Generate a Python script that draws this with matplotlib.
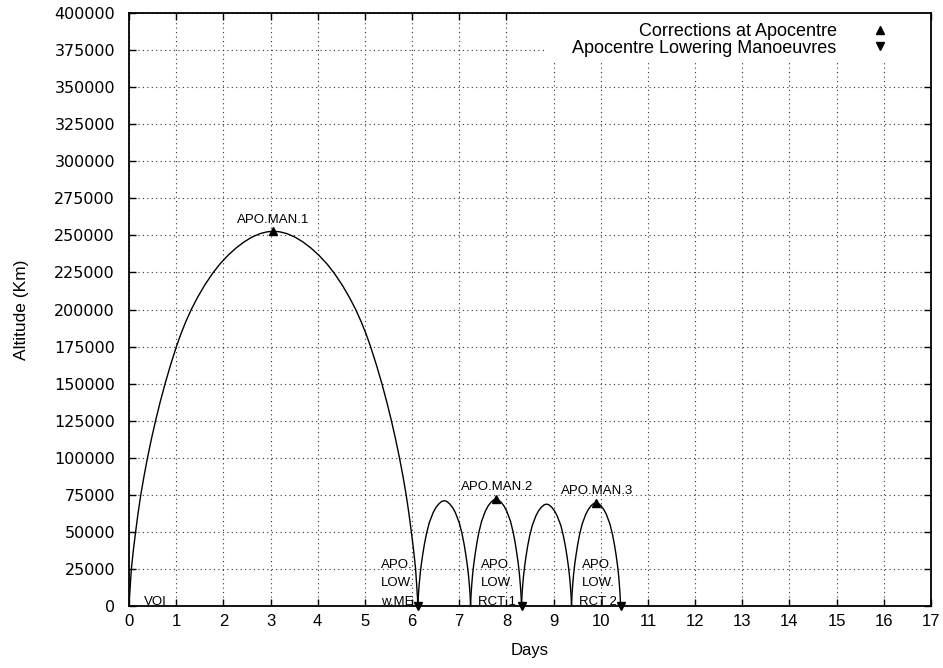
import matplotlib
matplotlib.use('Agg')
from matplotlib import pyplot as plt
from matplotlib.ticker import MultipleLocator
from matplotlib.patches import Rectangle

plt.rcParams['font.family'] = ['Liberation Sans', 'DejaVu Sans']

# altitude profile (days, km)
arc1_days = [0.000, 0.010, 0.022, 0.050, 0.090, 0.140, 0.192, 0.250, 0.318, 0.392, 0.474, 0.563,
             0.660, 0.765, 0.880, 1.005, 1.100, 1.200, 1.320, 1.450, 1.600, 1.770, 1.930, 2.100,
             2.270, 2.440, 2.610, 2.780, 2.930, 3.0625,
             3.195, 3.345, 3.515, 3.685, 3.855, 4.025, 4.195, 4.355, 4.525, 4.675, 4.805, 4.925,
             5.025, 5.120, 5.245, 5.360, 5.465, 5.562, 5.651, 5.733, 5.807, 5.875, 5.933, 5.985,
             6.035, 6.075, 6.103, 6.115, 6.125]
arc1_alt = [0, 5500, 11500, 25000, 37000, 50000, 62500, 75000, 87500, 100000, 112500, 125000,
            137500, 150000, 162500, 175000, 183500, 191500, 200000, 208000, 216200, 224300,
            230800, 236600, 241500, 245600, 248900, 251200, 252400, 252800,
            252400, 251200, 248900, 245600, 241500, 236600, 230800, 224300, 216200, 208000,
            200000, 191500, 183500, 175000, 162500, 150000, 137500, 125000, 112500, 100000,
            87500, 75000, 62500, 50000, 37000, 25000, 11500, 5500, 0]

arc2_days = [6.125, 6.134, 6.150, 6.170, 6.196, 6.228, 6.264, 6.308, 6.365, 6.447, 6.507, 6.569,
             6.631, 6.683, 6.734, 6.796, 6.858, 6.918, 7.000, 7.057, 7.101, 7.137, 7.169, 7.195,
             7.215, 7.231, 7.240]
arc2_alt = [0, 7000, 14100, 21100, 28100, 35100, 42100, 49100, 56200, 63000, 66500, 68900,
            70600, 71000, 70600, 68900, 66500, 63000, 56200, 49100, 42100, 35100, 28100, 21100,
            14100, 7000, 0]

arc3_days = [7.240, 7.249, 7.265, 7.284, 7.309, 7.340, 7.375, 7.417, 7.473, 7.552, 7.610, 7.670,
             7.730, 7.780, 7.830, 7.890, 7.950, 8.008, 8.088, 8.143, 8.185, 8.220, 8.251, 8.276,
             8.295, 8.311, 8.320]
arc3_alt = [0, 7100, 14300, 21400, 28500, 35600, 42700, 49800, 57000, 63900, 67400, 69900,
            71600, 72000, 71600, 69900, 67400, 63900, 57000, 49800, 42700, 35600, 28500, 21400,
            14300, 7100, 0]

arc4_days = [8.320, 8.329, 8.344, 8.363, 8.388, 8.418, 8.452, 8.494, 8.548, 8.626, 8.683, 8.742,
             8.801, 8.850, 8.899, 8.958, 9.017, 9.074, 9.154, 9.206, 9.248, 9.283, 9.312, 9.337,
             9.356, 9.371, 9.380]
arc4_alt = [0, 6800, 13600, 20400, 27200, 33900, 40700, 47500, 54300, 60900, 64300, 66700,
            68300, 68700, 68300, 66700, 64300, 60900, 54300, 47500, 40700, 33900, 27200, 20400,
            13600, 6800, 0]

arc5_days = [9.380, 9.389, 9.404, 9.422, 9.446, 9.476, 9.510, 9.551, 9.604, 9.680, 9.736, 9.794,
             9.852, 9.900, 9.948, 10.006, 10.064, 10.120, 10.196, 10.249, 10.290, 10.325, 10.354,
             10.378, 10.396, 10.411, 10.420]
arc5_alt = [0, 6900, 13800, 20700, 27600, 34400, 41300, 48200, 55100, 61700, 65100, 67600,
            69200, 69600, 69200, 67600, 65100, 61700, 55100, 48200, 41300, 34400, 27600, 20700,
            13800, 6900, 0]

apo_days = [3.0625, 7.78, 9.90]
apo_alt = [252800, 72000, 69600]
low_days = [6.125, 8.32, 10.42]
low_alt = [0, 0, 0]

fig = plt.figure(figsize=(9.43, 6.68), dpi=100)
ax = fig.add_axes([129 / 943, 1 - 606 / 668, (931 - 129) / 943, (606 - 13) / 668])

for d, a in [(arc1_days, arc1_alt), (arc2_days, arc2_alt), (arc3_days, arc3_alt),
             (arc4_days, arc4_alt), (arc5_days, arc5_alt)]:
    ax.plot(d, a, color='black', lw=1.0, zorder=3, solid_joinstyle='round')

ax.plot(apo_days, apo_alt, linestyle='none', marker='^', color='black', ms=5.5,
        label='Corrections at Apocentre', zorder=4, clip_on=False)
ax.plot(low_days, low_alt, linestyle='none', marker='v', color='black', ms=5.5,
        label='Apocentre Lowering Manoeuvres', zorder=4, clip_on=False)

ax.set_xlim(0, 17)
ax.set_ylim(0, 400000)
ax.xaxis.set_major_locator(MultipleLocator(1))
ax.yaxis.set_major_locator(MultipleLocator(25000))
ax.grid(True, linestyle=(0, (1, 3)), color='#333333', lw=0.8)
ax.set_axisbelow(True)
ax.tick_params(direction='in', top=True, right=True, length=5, width=1)
ax.tick_params(axis='x', labelsize=12, pad=6)
ax.tick_params(axis='y', labelsize=11.5, pad=10)
for lab in ax.get_yticklabels():
    lab.set_family('DejaVu Sans')
for s in ax.spines.values():
    s.set_linewidth(1.3)

ax.set_xlabel('Days', fontsize=12)
ax.set_ylabel('Altitude (Km)', fontsize=12.5)
ax.xaxis.set_label_coords(0.5, -0.062)
ax.yaxis.set_label_coords(-0.125, 0.5)

fs = 9.5
ax.text(3.05, 256500, 'APO.MAN.1', ha='center', va='bottom', fontsize=fs)
ax.text(7.80, 76000, 'APO.MAN.2', ha='center', va='bottom', fontsize=fs)
ax.text(9.92, 73200, 'APO.MAN.3', ha='center', va='bottom', fontsize=fs)
ax.text(0.55, -1300, 'VOI', ha='center', va='bottom', fontsize=fs)
ax.text(5.68, -1300, 'APO.\nLOW.\nw.ME', ha='center', va='bottom', fontsize=fs, linespacing=1.72)
ax.text(7.80, -1300, 'APO.\nLOW.\nRCT 1', ha='center', va='bottom', fontsize=fs, linespacing=1.72)
ax.text(9.94, -1300, 'APO.\nLOW.\nRCT 2', ha='center', va='bottom', fontsize=fs, linespacing=1.72)

# white key box hiding the grid behind the legend
ax.add_patch(Rectangle((0.519, 0.921), 0.481, 0.079, transform=ax.transAxes,
                       facecolor='white', edgecolor='none', zorder=2.5))

leg = ax.legend(loc='upper right', bbox_to_anchor=(0.96, 1.0), markerfirst=False,
                fontsize=13, frameon=False, handlelength=1.0, borderaxespad=0,
                labelspacing=-0.01, handletextpad=1.9, borderpad=0.55)
leg.set_zorder(5)
for t in leg.get_texts():
    t.set_ha('right')

fig.savefig('out.png', dpi=100)
